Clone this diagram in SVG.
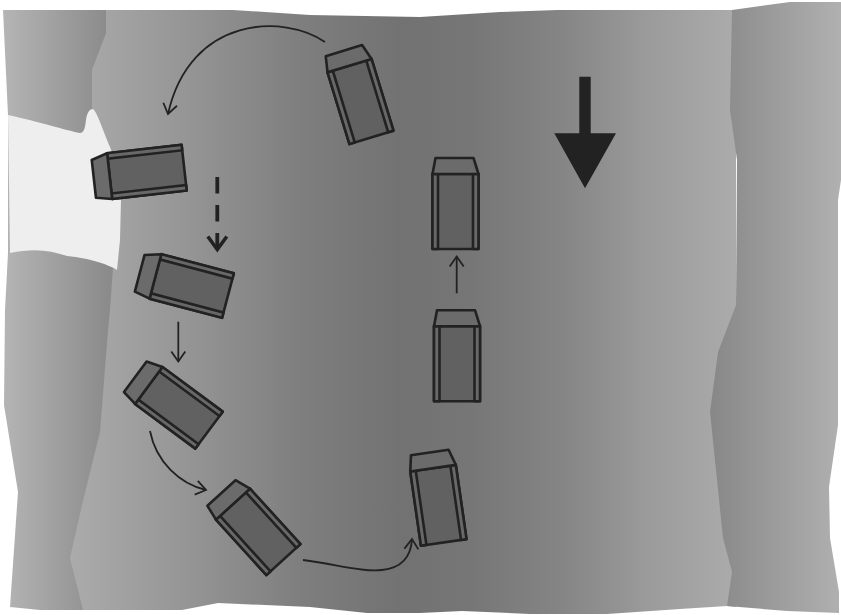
<svg xmlns="http://www.w3.org/2000/svg" width="841" height="615" viewBox="0 0 841 615">
  <defs>
    <linearGradient id="river-shade" gradientUnits="userSpaceOnUse" x1="70" y1="0" x2="735" y2="0">
      <stop offset="0" stop-color="#ababab"/>
      <stop offset="0.2" stop-color="#929292"/>
      <stop offset="0.35" stop-color="#7e7e7e"/>
      <stop offset="0.5" stop-color="#727272"/>
      <stop offset="0.6" stop-color="#767676"/>
      <stop offset="0.74" stop-color="#858585"/>
      <stop offset="0.87" stop-color="#9b9b9b"/>
      <stop offset="1" stop-color="#ababab"/>
    </linearGradient>
    <linearGradient id="left-bank-shade" gradientUnits="userSpaceOnUse" x1="5" y1="0" x2="108" y2="0">
      <stop offset="0" stop-color="#b4b4b4"/>
      <stop offset="1" stop-color="#8b8b8b"/>
    </linearGradient>
    <linearGradient id="right-bank-shade" gradientUnits="userSpaceOnUse" x1="712" y1="0" x2="840" y2="0">
      <stop offset="0" stop-color="#888888"/>
      <stop offset="1" stop-color="#b0b0b0"/>
    </linearGradient>

    <marker id="head" markerUnits="userSpaceOnUse" viewBox="-15 -15 30 30" markerWidth="30" markerHeight="30" refX="0" refY="0" orient="auto" overflow="visible">
      <path d="M-10,-7 L0,0 L-10,7" fill="none" stroke="#222" stroke-width="1.8" stroke-linejoin="miter"/>
    </marker>
    <marker id="head-bold" markerUnits="userSpaceOnUse" viewBox="-20 -20 40 40" markerWidth="40" markerHeight="40" refX="0" refY="0" orient="auto" overflow="visible">
      <path d="M-13,-9.5 L0,0 L-13,9.5" fill="none" stroke="#222" stroke-width="3.6" stroke-linejoin="miter"/>
    </marker>

    <!-- one boat, bow toward -y, centred on its hull -->
    <g id="boat">
      <rect class="hull" x="-23" y="-37.5" width="46" height="75"/>
      <rect class="rail" x="-23" y="-37.5" width="5.5" height="75"/>
      <rect class="rail" x="17.5" y="-37.5" width="5.5" height="75"/>
      <polygon class="cab" points="-23,-37.5 -20,-53.5 18,-53.5 23,-37.5"/>
    </g>
  </defs>

  <style>
    .hull { fill: #616161; stroke: #222; stroke-width: 2.6; stroke-linejoin: round; }
    .rail { fill: #686868; stroke: #222; stroke-width: 2.6; stroke-linejoin: round; }
    .cab  { fill: #6b6b6b; stroke: #222; stroke-width: 2.6; stroke-linejoin: round; }
    .path { fill: none; stroke: #222; stroke-width: 1.8; marker-end: url(#head); }
    .drift { fill: none; stroke: #222; stroke-width: 3.8; stroke-dasharray: 16.5 11.5; marker-end: url(#head-bold); }
  </style>

  <rect width="841" height="615" fill="#ffffff"/>

  <g id="terrain">
    <path id="river" fill="url(#river-shade)" d="M60,10 L233,10 L310,15 L420,17 L500,12 L557,10 L736,10 L736,607 L727,606 L680,609 L607,614 L530,614 L462,611 L420,613 L367,613 L310,607 L218,603 L182,610 L83,610 L60,610 Z"/>
    <path id="left-bank" fill="url(#left-bank-shade)" d="M3,10 L106,10 L106,33 L92,70 L92,112 L100,160 L113,268 L110,310 L108,330 L100,432 L82,505 L70,558 L83,610 L40,610 L10,607 L18,492 L4,405 L5,310 L8,253 L8,115 Z"/>
    <path id="right-bank" fill="url(#right-bank-shade)" d="M732,10 L790,2 L841,2 L841,180 L838,200 L838,425 L829,487 L830,538 L839,592 L839,613 L787,611 L727,606 L732,572 L723,538 L710,412 L718,352 L736,305 L737,160 L730,110 Z"/>
    <path id="inlet" fill="#eeeeee" d="M8,115 C40,122 65,130 80,133 C84,133 85,128 86,120 C87,112 90,109 93,109 C97,112 102,128 110,147 C116,162 120,180 121,200 L120,240 L117,270 C112,266 90,258 67,256 C50,250 33,248 10,253 Z"/>
  </g>

  <g id="current">
    <polygon fill="#222" points="579.3,76.7 590.7,76.7 590.7,133.3 616,133.3 585,188.3 554.3,133.3 579.3,133.3"/>
  </g>

  <g id="boats">
    <g id="boat-1" transform="translate(360.5,101.5) rotate(-17)"><use href="#boat"/></g>
    <g id="boat-2" transform="translate(146.9,171.9) rotate(-96.4)"><use href="#boat"/></g>
    <g id="boat-3" transform="translate(191.7,286) rotate(-75.2)"><use href="#boat"/></g>
    <g id="boat-4" transform="translate(178.9,407.8) rotate(-53.5)"><use href="#boat"/></g>
    <g id="boat-5" transform="translate(258.2,531.9) rotate(-42.3)"><use href="#boat"/></g>
    <g id="boat-6" transform="translate(438.4,505.3) rotate(-8.2)"><use href="#boat"/></g>
    <g id="boat-7" transform="translate(457,363.7)"><use href="#boat"/></g>
    <g id="boat-8" transform="translate(455.5,211.5)"><use href="#boat"/></g>
  </g>

  <g id="connectors">
    <path class="path" d="M325,42 C285,14 190,15 168,114"/>
    <path class="drift" d="M217.3,177 L217.3,249.5"/>
    <path class="path" d="M178.3,321.7 L178.3,361.5"/>
    <path class="path" d="M150,431 C156,462 180,484 206,490"/>
    <path class="path" d="M303,560 C340,565 362,572 382,570 C402,568 411,556 412,539"/>
    <path class="path" d="M456.7,293.3 L456.7,256.5"/>
  </g>
</svg>
